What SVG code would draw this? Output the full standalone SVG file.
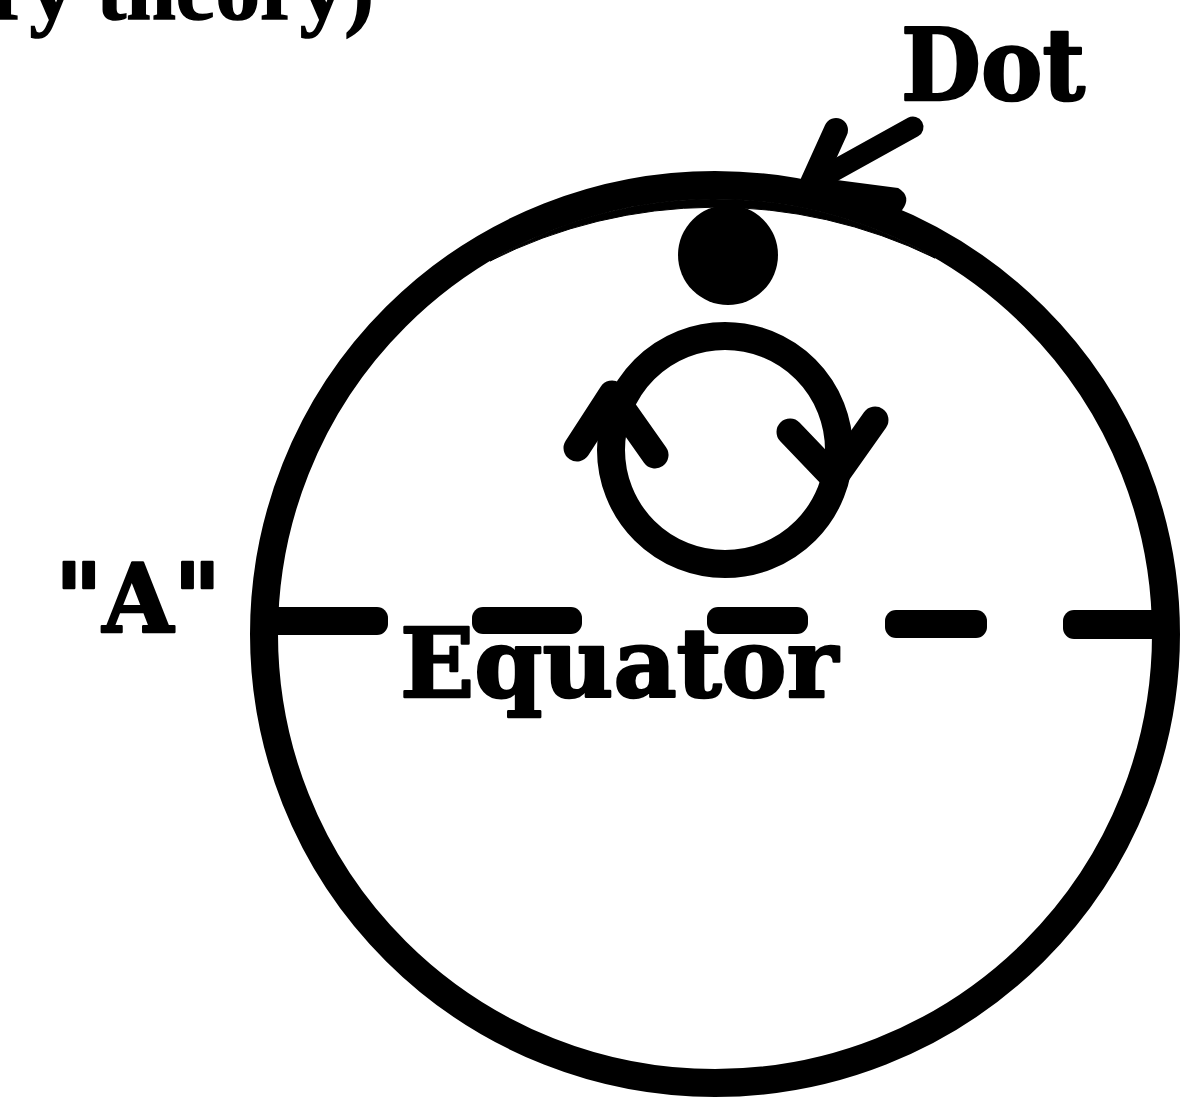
<svg xmlns="http://www.w3.org/2000/svg" width="1198" height="1097" viewBox="0 0 1198 1097">
<style>
  .ink { fill: none; stroke: #000; stroke-linecap: round; stroke-linejoin: round; }
  .type { font-family: "DejaVu Serif", "Liberation Serif", serif; font-weight: bold; fill: #000; stroke: #000; stroke-width: 2.5; stroke-linejoin: round; }
  .serif { font-family: "Liberation Serif", "Times New Roman", serif; font-weight: bold; fill: #000; stroke: #000; stroke-width: 1.5; }
  .dash { fill: #000; }
</style>
<rect width="1198" height="1097" fill="#fff"/>

<text class="serif" x="-10" y="19" font-size="88" textLength="384" lengthAdjust="spacingAndGlyphs">ry theory)</text>

<g id="globe">
  <ellipse class="ink" cx="715" cy="634" rx="451" ry="449" stroke-width="28"/>
  <path d="M490,261 A437,435 0 0 1 935,258 A500,500 0 0 0 490,261 Z" fill="#000" stroke="#000" stroke-width="1"/>
</g>

<g id="equator">
  <rect class="dash" x="262" y="607" width="126" height="28" rx="11"/>
  <rect class="dash" x="472" y="607" width="110" height="27" rx="11"/>
  <rect class="dash" x="707" y="607" width="101" height="27" rx="11"/>
  <rect class="dash" x="885" y="610" width="102" height="28" rx="11"/>
  <rect class="dash" x="1063" y="610" width="103" height="29" rx="11"/>
  <text class="type" x="400" y="697" font-size="96" textLength="438" lengthAdjust="spacingAndGlyphs">Equator</text>
</g>

<g id="dot">
  <circle cx="728" cy="255" r="50" fill="#000"/>
</g>

<g id="rotation">
  <circle class="ink" cx="725" cy="450" r="114" stroke-width="28"/>
  <polyline class="ink" points="577,448 612,394 655,455" stroke-width="27"/>
  <polyline class="ink" points="790,432 834,478 875,420" stroke-width="27"/>
</g>

<g id="label-dot">
  <text class="type" x="901" y="100" font-size="100" textLength="184" lengthAdjust="spacingAndGlyphs">Dot</text>
</g>

<g id="label-a">
  <text class="type" x="55" y="632" font-size="96" textLength="166" lengthAdjust="spacingAndGlyphs">"A"</text>
</g>

<g id="connectors">
  <line class="ink" x1="913" y1="127" x2="812" y2="183" stroke-width="21"/>
  <line class="ink" x1="836" y1="130" x2="812" y2="183" stroke-width="24"/>
  <path d="M806,177 L898,189 Q911,197 901,210 L860,208 L806,200 Z" fill="#000" stroke="#000" stroke-width="2" stroke-linejoin="round"/>
</g>
</svg>
